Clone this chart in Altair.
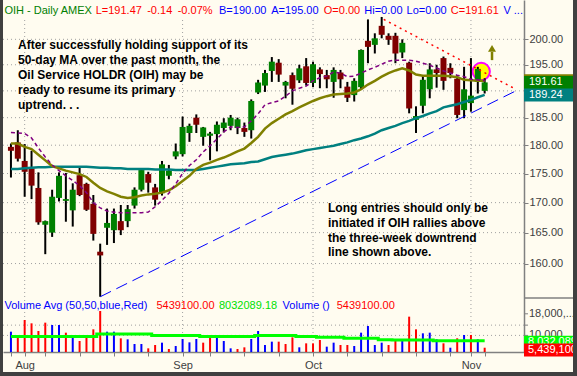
import math
import altair as alt
import pandas as pd

# ---------------- values ----------------
OPEN = [179.7, 180.5, 177.2, 175.9, 172.5, 166.3, 165.0, 170.8, 170.3, 168.7,
        174.7, 173.2, 169.8, 161.9, 165.8, 165.4, 166.9, 166.9, 169.5, 172.2,
        174.9, 172.6, 171.6, 174.6, 178.0, 178.4, 182.2, 185.0, 181.5, 181.7,
        182.0, 183.1, 183.5, 183.1, 183.1, 182.7, 189.7, 191.0, 193.8, 195.4,
        191.0, 193.0, 192.0, 194.7, 191.5, 194.1, 193.0, 191.7, 193.5, 190.8,
        189.2, 190.7, 199.7, 198.9, 202.7, 200.7, 200.7, 197.4, 195.4, 184.6,
        187.2, 190.3, 194.1, 196.3, 194.4, 192.3, 186.4, 187.7, 191.7, 190.0]
HIGH = [180.3, 182.7, 180.2, 179.0, 175.2, 167.0, 172.2, 175.2, 175.1, 173.3,
        176.1, 173.4, 171.3, 163.2, 169.0, 169.0, 169.6, 169.6, 172.6, 175.9,
        175.3, 173.2, 177.2, 176.5, 180.3, 185.2, 183.9, 185.6, 183.3, 182.4,
        184.3, 184.9, 185.5, 185.0, 184.1, 188.4, 192.1, 194.0, 196.5, 196.1,
        191.9, 193.5, 195.0, 196.3, 195.6, 194.5, 194.0, 194.5, 194.0, 191.7,
        192.4, 198.0, 204.0, 201.2, 204.5, 201.2, 201.3, 200.0, 195.6, 187.1,
        193.0, 195.3, 195.0, 196.6, 195.3, 193.0, 194.6, 196.3, 194.6, 192.4]
LOW = [174.3, 177.1, 171.0, 170.6, 166.3, 161.5, 164.3, 170.2, 166.8, 166.0,
       171.1, 168.6, 163.7, 154.8, 163.0, 163.3, 164.6, 165.9, 169.0, 171.9,
       171.7, 169.5, 171.2, 174.0, 177.5, 178.0, 180.6, 182.2, 179.9, 177.3,
       178.9, 182.3, 182.7, 182.0, 181.5, 181.2, 189.4, 189.8, 191.7, 191.7,
       188.6, 187.4, 191.5, 191.0, 190.7, 190.5, 190.5, 188.7, 190.5, 187.9,
       188.0, 190.2, 195.3, 197.2, 200.2, 198.9, 195.3, 196.3, 185.8, 182.2,
       185.8, 188.6, 190.6, 190.2, 192.4, 184.9, 184.9, 186.1, 189.5, 189.5]
CLOSE = [179.0, 177.6, 175.3, 172.9, 166.7, 166.9, 171.0, 174.6, 170.6, 172.2,
         171.3, 168.8, 164.8, 161.3, 166.6, 168.1, 165.4, 168.9, 172.2, 175.6,
         173.4, 170.5, 176.6, 175.5, 178.9, 183.3, 183.5, 183.7, 183.2, 182.1,
         183.7, 184.1, 185.0, 184.7, 182.4, 188.1, 191.6, 193.4, 195.6, 193.1,
         191.7, 190.4, 194.3, 191.5, 195.1, 193.2, 192.2, 194.0, 192.2, 188.7,
         191.9, 197.9, 198.5, 200.2, 200.9, 199.9, 197.2, 199.3, 186.7, 185.3,
         192.1, 194.1, 193.4, 191.9, 193.4, 185.5, 190.3, 189.1, 194.2, 191.61]
VOLUME_M = [11.38, 10.15, 15.70, 14.47, 11.63, 14.72, 13.85, 13.85, 11.01, 10.15,
            7.93, 10.15, 12.25, 19.04, 11.38, 11.38, 8.91, 8.54, 6.81, 6.81,
            5.21, 6.44, 7.31, 4.96, 6.07, 8.67, 7.43, 8.67, 7.31, 9.28,
            10.15, 7.93, 5.21, 4.96, 5.58, 8.67, 11.63, 6.44, 7.68, 7.68,
            6.81, 9.28, 5.58, 7.06, 7.06, 8.30, 5.83, 7.31, 6.44, 6.44,
            6.07, 11.01, 13.48, 6.44, 7.31, 6.44, 8.30, 7.93, 16.94, 12.25,
            10.77, 11.01, 8.56, 7.07, 5.44, 8.93, 10.15, 10.15, 8.56, 5.4391]
VOL_UP = [1, 0, 0, 0, 0, 0, 1, 1, 0, 1,
          0, 0, 0, 0, 1, 1, 0, 1, 1, 1,
          0, 0, 1, 0, 1, 1, 1, 1, 0, 0,
          1, 1, 1, 0, 0, 1, 1, 1, 1, 0,
          0, 0, 1, 0, 0, 0, 1, 1, 0, 0,
          1, 1, 1, 1, 1, 0, 0, 1, 0, 0,
          1, 1, 1, 0, 1, 0, 1, 0, 1, 0]
VOL_AVG_M = [9.6, 9.6, 9.6, 9.6, 9.6, 9.6, 9.6, 9.6, 9.6, 9.6,
             9.6, 9.6, 9.6, 10.5, 10.5, 10.5, 10.5, 10.5, 10.5, 10.5,
             10.5, 10.0, 10.0, 10.0, 10.0, 10.0, 10.0, 10.0, 9.6, 9.6,
             9.6, 9.6, 9.6, 9.6, 9.6, 9.6, 10.0, 10.0, 10.0, 10.0,
             10.0, 10.0, 9.6, 9.6, 9.6, 9.3, 9.3, 9.3, 9.3, 8.9,
             8.9, 8.9, 8.9, 8.9, 8.4, 8.4, 8.3, 8.3, 8.3, 8.3,
             8.3, 8.3, 8.032089, 8.032089, 8.032089, 8.032089, 8.032089, 8.032089, 8.032089, 8.032089]
MA20 = [180.3, 180.3, 179.7, 179.3, 178.3, 177.3, 176.3, 175.9, 175.5, 175.2,
        174.9, 174.4, 173.4, 172.5, 171.9, 171.5, 171.0, 170.8, 170.9, 171.2,
        171.4, 171.5, 171.7, 172.1, 172.8, 173.7, 174.6, 175.8, 176.5, 176.9,
        177.4, 177.8, 178.3, 178.9, 179.4, 180.4, 181.5, 183.0, 184.0, 184.8,
        185.6, 186.2, 186.9, 187.5, 188.1, 188.6, 189.0, 189.3, 189.4, 189.5,
        189.7, 190.3, 191.2, 191.9, 192.7, 193.4, 193.9, 194.3, 193.9, 193.1,
        192.9, 192.9, 192.9, 192.9, 192.8, 192.6, 192.1, 192.0, 191.9, 191.9]
MA50 = [175.8, 175.8, 175.9, 176.0, 176.1, 176.1, 176.2, 176.2, 176.2, 176.2,
        176.2, 176.2, 176.1, 176.0, 176.0, 175.9, 175.9, 175.8, 175.8, 175.8,
        175.8, 175.7, 175.7, 175.7, 175.6, 175.6, 175.6, 175.6, 175.8, 176.0,
        176.2, 176.4, 176.6, 176.7, 176.8, 177.0, 177.1, 177.5, 177.9, 178.1,
        178.3, 178.5, 178.8, 179.1, 179.3, 179.5, 179.7, 179.9, 180.2, 180.5,
        180.9, 181.2, 181.6, 182.1, 182.7, 183.1, 183.5, 184.0, 184.4, 184.9,
        185.3, 185.8, 186.2, 186.9, 187.2, 187.5, 187.9, 188.3, 188.8, 189.24]
MA_PURPLE = [182.3, 182.2, 182.1, 181.3, 179.5, 177.9, 176.5, 175.5, 174.6, 173.8,
             172.9, 171.7, 170.0, 169.1, 168.6, 168.4, 168.3, 168.3, 168.3, 168.3,
             168.4, 169.3, 170.4, 171.6, 173.2, 175.0, 176.4, 177.4, 178.8, 179.9,
             181.1, 182.4, 183.3, 183.2, 183.3, 184.4, 185.7, 187.4, 187.8, 188.1,
             189.0, 190.0, 190.5, 190.9, 191.9, 192.5, 192.8, 193.6, 193.4, 192.7,
             192.8, 193.4, 194.0, 194.5, 195.1, 195.7, 195.9, 195.9, 195.9, 195.7,
             195.3, 194.9, 194.4, 193.8, 193.4, 193.0, 192.7, 192.2, 192.1, 191.9]

MONTH_IDX = [2, 25, 44, 67]
MONTH_NAMES = ["Aug", "Sep", "Oct", "Nov"]
WEEK_IDX = [0, 5, 10, 15, 20, 29, 34, 39, 49, 54, 59, 64, 69]
PRICE_TICKS = [160, 165, 170, 175, 180, 185, 190, 195, 200]
PRICE_LABEL_TICKS = [160, 165, 170, 175, 180, 185, 195, 200]   # 190.00 is hidden under the value boxes
VOL_TICKS = [18.0, 13.8, 10.0]
VOL_TICK_LABELS = ["18,000,...", "", "10,000,..."]
VOL_GRID = [13.8, 10.0]

UPTREND_IDX = [13, 73.7]
UPTREND_PRICE = [154.8, 190.1]
DOWNTREND_IDX = [54.3, 73.4]
DOWNTREND_PRICE = [204.0, 190.4]
CIRCLE_IDX = [68.5]
CIRCLE_PRICE = [193.7]
ARROW_IDX = [70.07]
ARROW_SHAFT_PRICE = [195.9, 197.5]
ARROW_HEAD_PRICE = [198.2]

TITLE_PARTS = ["OIH - Daily", "AMEX", "L=191.47", "-0.14", "-0.07%", "B=190.00",
               "A=195.00", "O=0.00", "Hi=0.00", "Lo=0.00", "C=191.61", "V ..."]
VOL_HEADER_PARTS = ["Volume Avg (50,50,blue,Red)", "5439100.00", "8032089.18",
                    "Volume ()", "5439100.00"]
NOTE_TOP = ["After successfully holding support of its",
            "50-day MA over the past month, the",
            "Oil Service HOLDR (OIH) may be",
            "ready to resume its primary",
            "uptrend. . ."]
NOTE_BOTTOM = ["Long entries should only be",
               "initiated if OIH rallies above",
               "the three-week downtrend",
               "line shown above."]

# ---------------- styles and layout ----------------
FONT = "Liberation Sans"
BG = "#FFFCF0"
BORDER = "#404040"
GRID = "#A0A0A0"
AXIS_GRAY = "#808080"
LABEL = "#404040"
GREEN_T, RED_T, BLUE_T, LIME_T = "#008000", "#FF0000", "#0000FF", "#00E000"
TITLE_COLORS = [GREEN_T, GREEN_T, RED_T, RED_T, RED_T, BLUE_T, BLUE_T, RED_T,
                BLUE_T, BLUE_T, RED_T, BLUE_T]
TITLE_X = [4.4, 60.7, 95.7, 147.2, 177.7, 219.0, 271.2, 323.8, 364.3, 406.6, 450.8, 503.4]
VOL_HEADER_COLORS = [BLUE_T, RED_T, LIME_T, BLUE_T, RED_T]
VOL_HEADER_X = [4.4, 156.4, 219.0, 282.6, 336.7]
NOTE_TOP_Y = [45, 60, 74.5, 89.5, 104.5]
NOTE_BOTTOM_Y = [208.3, 223, 237.5, 252]

PAD_L = 3
W, H = 521, 352
X_DOMAIN = [-0.4286, 74.0]
PRICE_DOMAIN = [146.52, 207.98]
PX_PER_LN = 1005.0
VOL_DOMAIN = [3.852, 134.22]
VOL_PX_PER_M = 2.7

ONE = pd.DataFrame({"k": [0]})

df = pd.DataFrame({
    "idx": list(range(len(CLOSE))), "open": OPEN, "high": HIGH, "low": LOW,
    "close": CLOSE, "vol": VOLUME_M, "volavg": VOL_AVG_M,
    "ma20": MA20, "ma50": MA50, "map": MA_PURPLE,
})
df["dir"] = ["bull" if c >= o else "bear" for o, c in zip(OPEN, CLOSE)]
df["vdir"] = ["vup" if u else "vdown" for u in VOL_UP]

label_expr = "".join(f"datum.value == {i} ? '{n}' : " for i, n in zip(MONTH_IDX, MONTH_NAMES)) + "''"
X_SCALE = alt.Scale(domain=X_DOMAIN, nice=False, zero=False)
X_AXIS = alt.Axis(values=MONTH_IDX + WEEK_IDX, labelExpr=label_expr, orient="bottom",
                  tickSize=4, tickColor=AXIS_GRAY, domainColor=AXIS_GRAY, domainWidth=1.5,
                  labelFont=FONT, labelFontSize=11, labelColor=LABEL, labelPadding=3,
                  grid=False, title=None, labelOverlap=False, labelFlush=False, zindex=0)
PRICE_SCALE = alt.Scale(type="log", domain=PRICE_DOMAIN, nice=False)
PRICE_AXIS = alt.Axis(orient="right", values=PRICE_LABEL_TICKS, format=".2f", tickSize=4,
                      tickColor=AXIS_GRAY, domainColor=AXIS_GRAY, domainWidth=1.5,
                      labelFont=FONT, labelFontSize=11, labelColor=LABEL, labelPadding=1,
                      grid=False, title=None, labelOverlap=False, labelFlush=False, zindex=0)
VOL_SCALE = alt.Scale(domain=VOL_DOMAIN, nice=False, zero=False)


def xq(f):
    return alt.X(f"{f}:Q", scale=X_SCALE, axis=X_AXIS)


def py(f, axis=True):
    return alt.Y(f"{f}:Q", scale=PRICE_SCALE, axis=PRICE_AXIS if axis else None)


def vy(f):
    return alt.Y(f"{f}:Q", scale=VOL_SCALE, axis=None)


def text_at(s, x, y, color, size=11, bold=False):
    return alt.Chart(ONE).mark_text(
        text=s, align="left", baseline="middle", font=FONT, fontSize=size,
        fontWeight="bold" if bold else "normal", color=color
    ).encode(x=alt.value(x - PAD_L), y=alt.value(y))


def rect_px(x1, x2, y1, y2, color):
    return alt.Chart(ONE).mark_rect(color=color).encode(
        x=alt.value(x1), x2=alt.value(x2), y=alt.value(y1), y2=alt.value(y2))


# ---------- group 1: grid ----------
price_grid = alt.Chart(pd.DataFrame({"p": PRICE_TICKS})).mark_rule(
    color=GRID, strokeDash=[1, 3], strokeWidth=1).encode(y=py("p", axis=False))
month_grid = alt.Chart(pd.DataFrame({"m": MONTH_IDX})).mark_rule(
    color=GRID, strokeDash=[1, 3], strokeWidth=1).encode(x=xq("m"))
g1 = alt.layer(price_grid, month_grid)

# ---------- group 2: volume ----------
vol_grid = alt.Chart(pd.DataFrame({"v": VOL_GRID})).mark_rule(
    color=GRID, strokeDash=[1, 3], strokeWidth=1).encode(y=vy("v"))
vol_bars = alt.Chart(df).mark_bar(size=2).encode(
    x=xq("idx"), y=vy("vol"), y2=alt.datum(VOL_DOMAIN[0]),
    color=alt.Color("vdir:N", scale=alt.Scale(domain=["vup", "vdown"], range=["#0000FF", "#FF0000"]), legend=None))
vol_avg = alt.Chart(df).mark_line(color="#00FF00", strokeWidth=3, interpolate="step").encode(
    x=xq("idx"), y=vy("volavg"))
vt = pd.DataFrame({"v": VOL_TICKS, "t": VOL_TICK_LABELS})
vol_ticks = alt.Chart(vt).mark_rule(color=AXIS_GRAY, strokeWidth=1).encode(
    x=alt.value(W), x2=alt.value(W + 4), y=vy("v"))
vol_labels = alt.Chart(vt).mark_text(align="left", baseline="middle", font=FONT, fontSize=11,
                                     color=LABEL).encode(x=alt.value(W + 5), y=vy("v"), text="t:N")
vol_sep = alt.Chart(ONE).mark_rule(color=AXIS_GRAY, strokeWidth=1.5).encode(
    x=alt.value(W), x2=alt.value(W + 50), y=alt.value(298))


def vol_box(value, shift_px, fill, label):
    half = 6.5 / VOL_PX_PER_M
    c = value - shift_px / VOL_PX_PER_M
    d = pd.DataFrame({"c": [c], "t": [c + half], "b": [c - half], "s": [label]})
    box = alt.Chart(d).mark_rect(color=fill).encode(
        x=alt.value(W), x2=alt.value(W + 56), y=vy("t"), y2="b:Q")
    txt = alt.Chart(d).mark_text(align="left", baseline="middle", font=FONT, fontSize=11,
                                 color="white").encode(x=alt.value(W + 4), y=vy("c"), text="s:N")
    return [box, txt]


last_avg = VOL_AVG_M[-1]
last_vol = VOLUME_M[-1]
g2 = alt.layer(vol_grid, vol_bars, vol_avg, vol_ticks, vol_labels, vol_sep,
               *vol_box(last_avg, 1.5, "#00FF00", f"{round(last_avg * 1e6):,}"),
               *vol_box(last_vol, 2.3, "#FF0000", f"{round(last_vol * 1e6):,}"))

# ---------- group 3: price ----------
title_cover = rect_px(0, W - 1, 0, 17.5, BG)
circle = alt.Chart(pd.DataFrame({"i": CIRCLE_IDX, "p": CIRCLE_PRICE})).mark_point(
    shape="circle", filled=True, fill="#FFFF00", stroke="#FF00FF", strokeWidth=2,
    size=300, opacity=1, fillOpacity=1, strokeOpacity=1).encode(x=xq("i"), y=py("p"))
wicks = alt.Chart(df).mark_rule(color="black", strokeWidth=2).encode(
    x=xq("idx"), y=py("low"), y2="high:Q")
bodies = alt.Chart(df).mark_bar(size=6).encode(
    x=xq("idx"), y=py("open"), y2="close:Q",
    color=alt.Color("dir:N", scale=alt.Scale(domain=["bull", "bear"], range=["#008000", "#800000"]), legend=None))
ma50 = alt.Chart(df).mark_line(color="#008080", strokeWidth=2.5).encode(x=xq("idx"), y=py("ma50"))
ma20 = alt.Chart(df).mark_line(color="#808000", strokeWidth=2.5).encode(x=xq("idx"), y=py("ma20"))
mapur = alt.Chart(df).mark_line(color="#800080", strokeWidth=1.5, strokeDash=[4, 3]).encode(
    x=xq("idx"), y=py("map"))
up_tr = alt.Chart(pd.DataFrame({"i": UPTREND_IDX, "p": UPTREND_PRICE})).mark_line(
    color="#0000FF", strokeWidth=1, strokeDash=[12, 6]).encode(x=xq("i"), y=py("p"))
dn_tr = alt.Chart(pd.DataFrame({"i": DOWNTREND_IDX, "p": DOWNTREND_PRICE})).mark_line(
    color="#FF0000", strokeWidth=1.5, strokeDash=[2, 4]).encode(x=xq("i"), y=py("p"))
shaft = alt.Chart(pd.DataFrame({"i": ARROW_IDX, "p1": [ARROW_SHAFT_PRICE[0]], "p2": [ARROW_SHAFT_PRICE[1]]})).mark_rule(
    color="#808000", strokeWidth=2.5).encode(x=xq("i"), y=py("p1"), y2="p2:Q")
head = alt.Chart(pd.DataFrame({"i": ARROW_IDX, "p": ARROW_HEAD_PRICE})).mark_point(
    shape="triangle-up", filled=True, color="#808000", size=64, opacity=1).encode(x=xq("i"), y=py("p"))


def price_box(value, fill, label=None):
    r = math.exp(6.5 / PX_PER_LN)
    d = pd.DataFrame({"c": [value], "t": [value * r], "b": [value / r], "s": [label or ""]})
    out = [alt.Chart(d).mark_rect(color=fill).encode(
        x=alt.value(W), x2=alt.value(W + 56), y=py("t"), y2="b:Q")]
    if label:
        out.append(alt.Chart(d).mark_text(align="left", baseline="middle", font=FONT, fontSize=11,
                                          color="white").encode(x=alt.value(W + 5), y=py("c"), text="s:N"))
    return out


g3 = alt.layer(title_cover, circle, wicks, bodies, ma50, ma20, mapur, up_tr, dn_tr, shaft, head,
               *price_box(MA20[-1], "#808000"),
               *price_box(CLOSE[-1], "#008000", f"{CLOSE[-1]:.2f}"),
               *price_box(MA50[-1], "#008080", f"{MA50[-1]:.2f}"))

# ---------- group 4: texts and frame ----------
texts = []
for s, c, x in zip(TITLE_PARTS, TITLE_COLORS, TITLE_X):
    texts.append(text_at(s, x, 11, c))
for s, c, x in zip(VOL_HEADER_PARTS, VOL_HEADER_COLORS, VOL_HEADER_X):
    texts.append(text_at(s, x, 305.5, c))
for s, y in zip(NOTE_TOP, NOTE_TOP_Y):
    texts.append(text_at(s, 18, y, "black", size=12, bold=True))
for s, y in zip(NOTE_BOTTOM, NOTE_BOTTOM_Y):
    texts.append(text_at(s, 328, y, "black", size=12, bold=True))

borders = [rect_px(-PAD_L, 0, 0, 376, BORDER),
           rect_px(570, 580, 0, 376, BORDER),
           rect_px(-PAD_L, 580, 372, 380, BORDER)]
g4 = alt.layer(*texts, *borders)

chart = alt.layer(g1, g2, g3, g4).resolve_scale(y="independent", color="independent").properties(
    width=W, height=H, background=BG,
    padding={"left": PAD_L, "top": 0, "right": 577 - PAD_L - W, "bottom": 376 - H},
    autosize=alt.AutoSizeParams(type="none"),
).configure_view(strokeWidth=0)

chart.save("out.html", embed_options={"renderer": "svg", "actions": False})
